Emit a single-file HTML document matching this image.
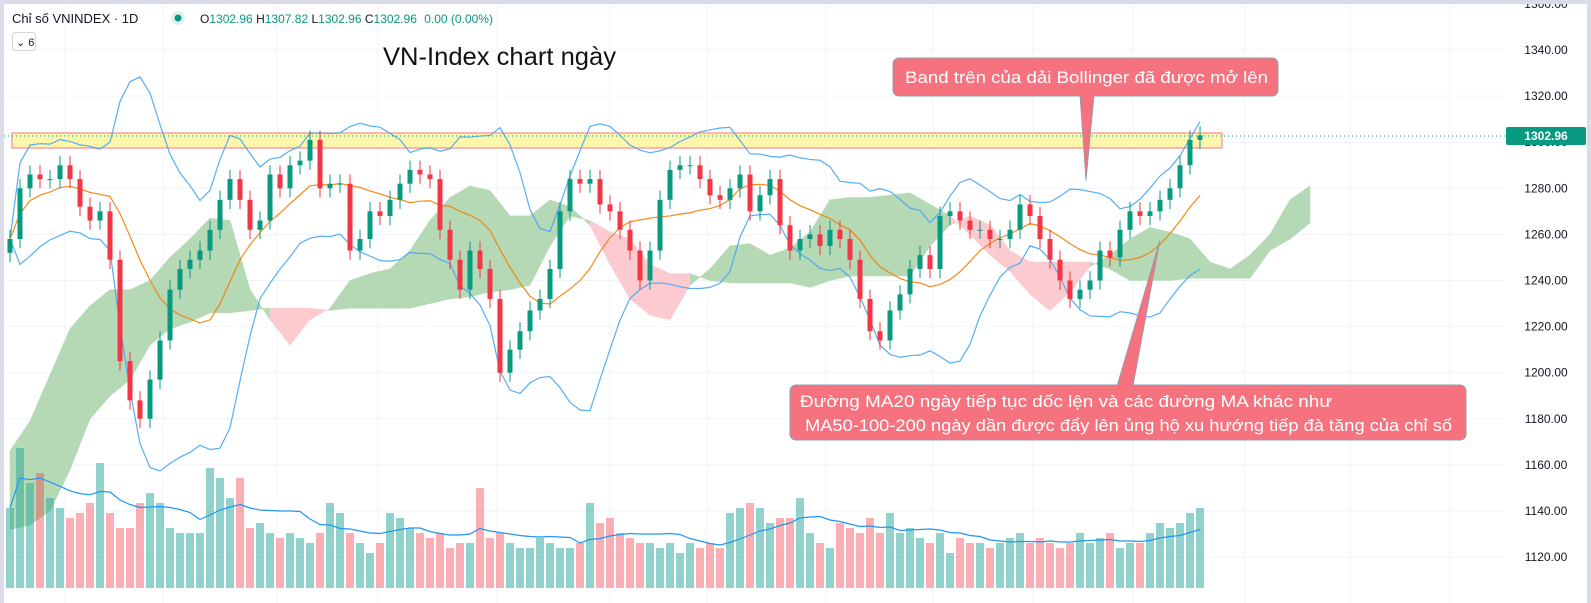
<!DOCTYPE html>
<html><head><meta charset="utf-8"><style>
html,body{margin:0;padding:0;background:#fff;}
svg{display:block;font-family:"Liberation Sans","DejaVu Sans",sans-serif;}
</style></head><body>
<svg id="chart" width="1591" height="603" viewBox="0 0 1591 603" xmlns="http://www.w3.org/2000/svg">
<rect x="0" y="0" width="1591" height="603" fill="#ffffff"/>
<g id="grid"></g>
<g id="cloud"></g>
<g id="vol"></g>
<rect x="12" y="133" width="1210" height="15" fill="#fff59d" fill-opacity="0.85" stroke="#f7a1a8" stroke-width="1.5"/>
<g id="bands"></g>
<g id="candles"></g>
<line x1="0" y1="136" x2="1505" y2="136" stroke="#089981" stroke-width="1" stroke-dasharray="1,3"/>
<g id="axis"></g>
<rect x="1506" y="127" width="80" height="18" rx="2" fill="#089981"/>
<text x="1546" y="140" font-size="12" fill="#fff" text-anchor="middle" font-weight="bold">1302.96</text>
<rect x="0" y="0" width="1591" height="4" fill="#d9dce6"/>
<rect x="0" y="0" width="4" height="603" fill="#dcdce8"/>
<rect x="1587" y="0" width="4" height="603" fill="#d9dce6"/>
<text x="12" y="23" font-size="13" fill="#131722">Chỉ số VNINDEX · 1D</text>
<circle cx="178" cy="18" r="7" fill="#e0f2ef"/>
<circle cx="178" cy="18" r="3.5" fill="#089981"/>
<text x="200" y="23" font-size="12" fill="#089981"><tspan fill="#131722">O</tspan>1302.96 <tspan fill="#131722">H</tspan>1307.82 <tspan fill="#131722">L</tspan>1302.96 <tspan fill="#131722">C</tspan>1302.96 <tspan dx="4">0.00 (0.00%)</tspan></text>
<rect x="12.5" y="32.5" width="23" height="18" rx="3" fill="#fff" stroke="#d1d4dc"/>
<text x="16" y="46" font-size="11" fill="#131722">⌄ 6</text>
<text x="383" y="65" font-size="25" fill="#111" textLength="233" lengthAdjust="spacingAndGlyphs">VN-Index chart ngày</text>
<polygon points="1080,96 1094,96 1086,181" fill="#f5727e" stroke="#8aa0b0" stroke-width="0.8"/>
<rect x="893" y="58" width="385" height="38" rx="6" fill="#f5727e" stroke="#8aa0b0" stroke-width="1"/>
<rect x="1081" y="94" width="12" height="4" fill="#f5727e"/>
<text x="905" y="83" font-size="17" fill="#fff" textLength="363" lengthAdjust="spacingAndGlyphs">Band trên của dải Bollinger đã được mở lên</text>
<polygon points="1117,386 1133,386 1160,240" fill="#f5727e" stroke="#8aa0b0" stroke-width="0.8"/>
<rect x="790" y="385" width="676" height="55" rx="6" fill="#f5727e" stroke="#8aa0b0" stroke-width="1"/>
<rect x="1118" y="383" width="14" height="4" fill="#f5727e"/>
<text x="800" y="407" font-size="17" fill="#fff" textLength="532" lengthAdjust="spacingAndGlyphs">Đường MA20 ngày tiếp tục dốc lện và các đường MA khác như</text>
<text x="805" y="431" font-size="17" fill="#fff" textLength="647" lengthAdjust="spacingAndGlyphs">MA50-100-200 ngày dần được đẩy lên ủng hộ xu hướng tiếp đà tăng của chỉ số</text>
</svg>
<script>
const closes = [1258,1280,1286,1284,1284,1290,1284,1272,1266,1270,1249,1205,1188,1180,1197,1214,1236,1245,1249,1253,
1262,1275,1284,1275,1262,1266,1286,1280,1290,1292,1301,1280,1282,1282,1253,1258,1270,1268,1275,1282,
1288,1286,1284,1262,1249,1236,1253,1245,1232,1200,1210,1218,1227,1232,1245,1270,1284,1282,1284,1273,
1270,1262,1253,1240,1253,1275,1288,1290,1290,1284,1277,1275,1280,1286,1270,1277,1284,1264,1253,1258,
1260,1255,1262,1258,1249,1232,1218,1214,1227,1234,1245,1251,1245,1268,1270,1266,1262,1262,1258,1258,
1262,1273,1268,1258,1249,1240,1232,1236,1240,1253,1250,1262,1270,1268,1270,1275,1280,1290,1301,1303];
const volumes = [80,140,105,115,90,80,70,75,85,125,75,60,60,85,95,85,60,55,55,55,
120,110,90,110,60,65,55,50,55,50,45,55,85,75,55,45,35,45,75,70,
60,55,50,55,40,45,45,100,50,55,45,40,40,50,45,40,40,45,85,65,
70,55,50,45,45,40,45,35,45,40,45,40,75,80,85,80,65,70,70,90,
55,45,40,65,60,55,70,55,75,55,60,50,45,55,35,50,45,45,40,45,
50,55,45,50,45,40,45,55,45,50,55,40,45,45,55,65,60,65,75,80];
const spanA = [1166,1179,1199,1219,1229,1236,1236,1240,1250,1258,1267,1266,1236,1223,1212,1223,1228,1240,1243,1245,
1253,1266,1276,1281,1279,1268,1268,1275,1272,1264,1247,1232,1225,1223,1238,1245,1255,1256,1251,1254,
1261,1275,1276,1276,1277,1278,1273,1268,1260,1251,1244,1234,1227,1235,1246,1251,1258,1263,1261,1258,
1248,1245,1251,1260,1275,1281];
const spanB = [1132,1134,1140,1158,1180,1190,1197,1212,1219,1222,1226,1226,1227,1228,1228,1228,1227,1228,1228,1228,
1228,1230,1232,1233,1235,1236,1238,1255,1268,1266,1261,1258,1247,1243,1243,1240,1239,1239,1239,1239,
1237,1240,1242,1242,1242,1242,1255,1264,1268,1264,1253,1248,1248,1248,1248,1245,1240,1240,1240,1241,
1241,1241,1241,1253,1258,1265];
const priceTicks = [1120,1140,1160,1180,1200,1220,1240,1260,1280,1300,1320,1340,1360];

const NS='http://www.w3.org/2000/svg';
function yP(v){return 50+(1340-v)*2.305;}
function xB(i){return 10+i*10;}
function yV(v){return 588-v;}
function mk(tag,attrs,parent){const e=document.createElementNS(NS,tag);for(const k in attrs)e.setAttribute(k,attrs[k]);parent.appendChild(e);return e;}
const grid=document.getElementById('grid'),axis=document.getElementById('axis');
priceTicks.forEach(v=>{
  const l=mk('line',{x1:4,x2:1505,y1:yP(v),y2:yP(v),stroke:'#f0f3fa'},grid);
  
  
  const t=mk('text',{x:1546,y:yP(v)+4,'font-size':12,fill:'#131722','text-anchor':'middle'},axis);
  
  
  t.textContent=v.toFixed(2);
});
[65,163,277,378,497,610,707,826,933,1033,1133,1245,1350,1450].forEach(x=>{
  const l=mk('line',{x1:x,x2:x,y1:4,y2:603,stroke:'#f0f3fa'},grid);
  
  
});
const n=closes.length;
const opens=closes.map((c,i)=>i===0?closes[0]-6:closes[i-1]);
const highs=closes.map((c,i)=>Math.max(c,opens[i])+4);
const lows=closes.map((c,i)=>Math.min(c,opens[i])-4);
const cloud=document.getElementById('cloud');
for(let k=0;k<spanA.length-1;k++){
  const x1=xB(2*k),x2=xB(2*k+2);
  const a1=spanA[k],a2=spanA[k+1],b1=spanB[k],b2=spanB[k+1];
  const col=(a1+a2)>=(b1+b2)?'#b5d9b5':'#fccbcf';
  const p=mk('polygon',{points:`${x1},${yP(a1)} ${x2},${yP(a2)} ${x2},${yP(b2)} ${x1},${yP(b1)}`,fill:col,stroke:col,'stroke-width':0.6},cloud);
  
  
}
const vol=document.getElementById('vol');
volumes.forEach((v,i)=>{
  const up=closes[i]>=opens[i];
  const r=mk('rect',{x:xB(i)-4,y:yV(v),width:8,height:v,fill:up?'rgba(38,166,154,0.5)':'rgba(242,54,69,0.4)'},vol);
  
  
});
let vp='';
for(let i=0;i<n;i++){const s=volumes.slice(Math.max(0,i-9),i+1);const m=s.reduce((a,b)=>a+b,0)/s.length;vp+=(i?'L':'M')+xB(i)+','+yV(m);}
const vl=mk('path',{d:vp,fill:'none',stroke:'#2196f3','stroke-width':1.2},vol);


const bands=document.getElementById('bands');
let pu='',pl='',pm='';
for(let i=0;i<n;i++){
  const s=closes.slice(Math.max(0,i-9),i+1);const m=s.reduce((a,b)=>a+b,0)/s.length;
  const sd=Math.sqrt(s.reduce((a,b)=>a+(b-m)*(b-m),0)/s.length);
  const c=i?'L':'M';
  pu+=c+xB(i)+','+yP(m+2*sd);pl+=c+xB(i)+','+yP(m-2*sd);pm+=c+xB(i)+','+yP(m);
}
[[pu,'#42a5f5','bollinger-upper'],[pl,'#42a5f5','bollinger-lower'],[pm,'#f57c00','ma20-line']].forEach(([d,c,nm])=>{
  const p=mk('path',{d:d,fill:'none',stroke:c,'stroke-width':1.2,'stroke-opacity':0.9},bands);
  
  
});
const cg=document.getElementById('candles');
for(let i=0;i<n;i++){
  const up=closes[i]>=opens[i],col=up?'#089981':'#f23645';
  const w=mk('line',{x1:xB(i),x2:xB(i),y1:yP(highs[i]),y2:yP(lows[i]),stroke:col,'stroke-width':1},cg);
  
  
  const top=yP(Math.max(closes[i],opens[i])),bot=yP(Math.min(closes[i],opens[i]));
  const b=mk('rect',{x:xB(i)-2.5,y:top,width:5,height:Math.max(1,bot-top),fill:col},cg);
  
  
}
</script>
</body></html>
